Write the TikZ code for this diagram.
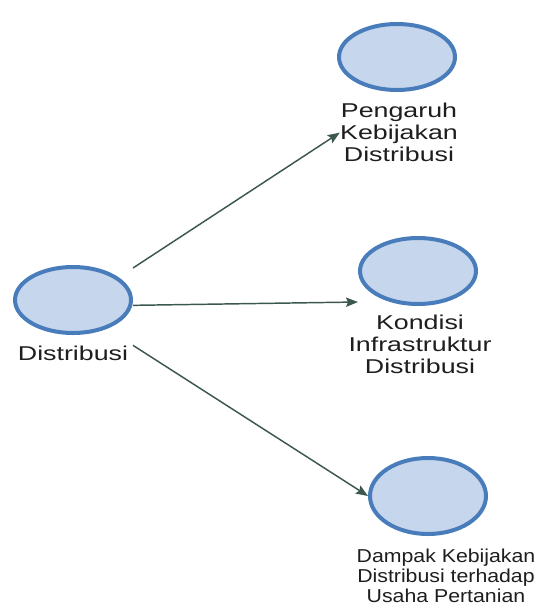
\documentclass[tikz,border=0pt]{standalone}
\usepackage{fontspec}
\setmainfont{Liberation Sans}
\usetikzlibrary{arrows.meta,shapes.geometric}

\definecolor{bubblefill}{RGB}{197,214,237}
\definecolor{bubbleline}{RGB}{72,124,186}
\definecolor{linkcol}{RGB}{60,88,78}
\definecolor{lblcol}{RGB}{30,30,30}

\begin{document}
\begin{tikzpicture}[x=0.75pt,y=-0.75pt,
  bubble/.style={ellipse,draw=bubbleline,fill=bubblefill,line width=3pt,
    minimum width=87pt,minimum height=49.5pt,inner sep=0pt},
  lbl/.style={font=\fontsize{15pt}{16.5pt}\selectfont,text=lblcol,align=center,
    inner sep=0pt,anchor=north,xscale=1.34,transform shape},
  lblsmall/.style={font=\fontsize{14pt}{15pt}\selectfont,text=lblcol,align=center,
    inner sep=0pt,anchor=north,xscale=1.14,transform shape},
  link/.style={draw=linkcol,line width=1.1pt,-{Stealth[length=9pt,width=7pt,inset=1.5pt]}}]
  \useasboundingbox (0,0) rectangle (539,608);

  %source
  \node[bubble] (dis) at (73,300) {};
  \node[lbl] (dis-lbl) at (73,346) {Distribusi};

  %targets
  \node[bubble] (peng) at (397,57) {};
  \node[lbl] (peng-lbl) at (399,103) {Pengaruh\\Kebijakan\\Distribusi};

  \node[bubble] (kon) at (418,271) {};
  \node[lbl] (kon-lbl) at (420,315) {Kondisi\\Infrastruktur\\Distribusi};

  \node[bubble,minimum height=57pt] (damp) at (428,496) {};
  \node[lblsmall] (damp-lbl) at (446,549) {Dampak Kebijakan\\Distribusi terhadap\\Usaha Pertanian};

  %arrows
  \coordinate (kon-in) at (358,302);
  \draw[link] ([yshift=24pt]dis.east) -- (peng-lbl.west);
  \draw[link] ([yshift=-4pt]dis.east) -- (kon-in);
  \draw[link] ([yshift=-34pt]dis.east) -- (damp.west);

\end{tikzpicture}
\end{document}
